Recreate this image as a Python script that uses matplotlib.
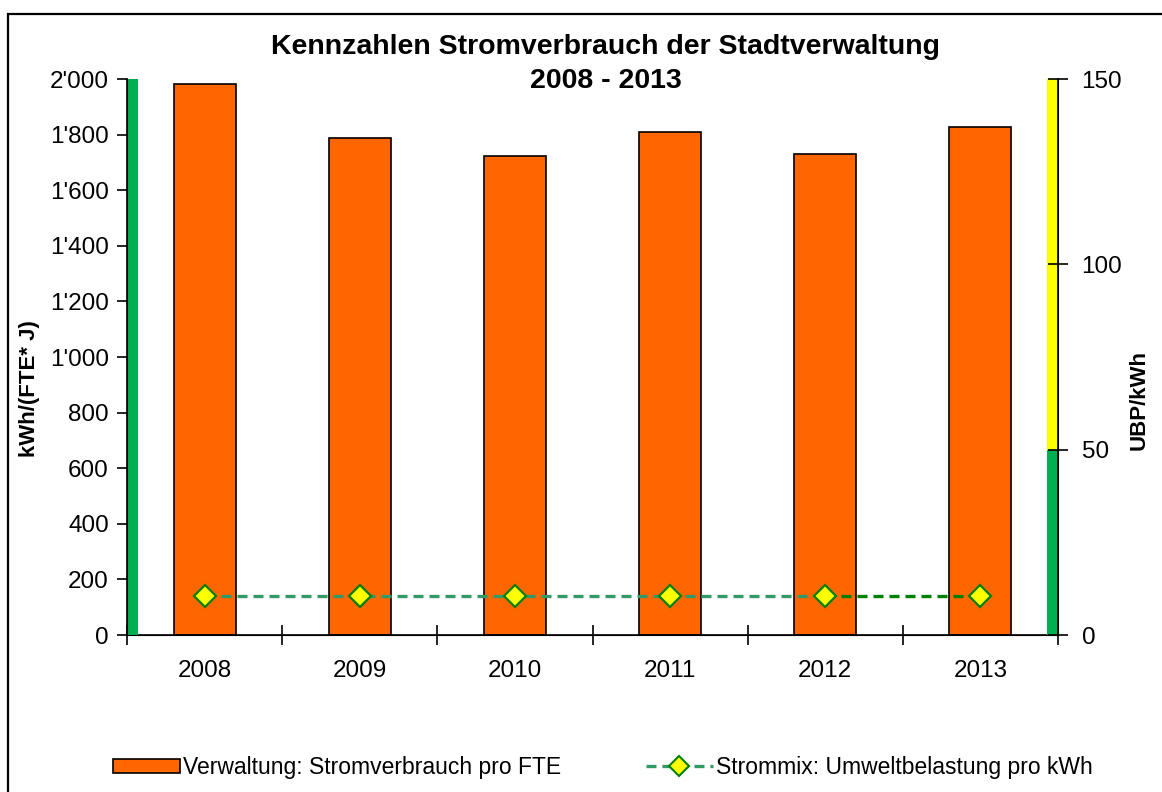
import numpy as np
import matplotlib.pyplot as plt
from matplotlib.patches import Rectangle, Patch
from matplotlib.lines import Line2D
from matplotlib.ticker import FuncFormatter

plt.rcParams['font.family'] = ['Liberation Sans', 'DejaVu Sans']

# data
years = ['2008', '2009', '2010', '2011', '2012', '2013']
kwh_per_fte = [1982, 1788, 1723, 1809, 1730, 1827]
ubp_per_kwh = [10.5, 10.5, 10.5, 10.5, 10.5, 10.5]

# coloured reference bands at the axis edges
kwh_band = (0, 2000)
ubp_bands = [(0, 50, '#00B050'), (50, 150, '#FFFF00')]

bar_color = '#FF6600'
line_color = '#339966'
last_seg_color = '#008000'

fig = plt.figure(figsize=(11.62, 7.92), dpi=100)
ax = fig.add_axes([0.1093, 0.1982, 0.8012, 0.7020])
ax2 = ax.twinx()

x = np.arange(len(years))

ax.bar(x, kwh_per_fte, width=0.4, color=bar_color, edgecolor='black', linewidth=1.2, zorder=2)

# left green band
ax.bar(-0.5, kwh_band[1] - kwh_band[0], bottom=kwh_band[0], width=0.07, align='edge',
       color='#00B050', linewidth=0, zorder=3)

ax.set_xlim(-0.5, len(years) - 0.5)
ax.set_ylim(0, 2000)
ax.set_yticks(np.arange(0, 2001, 200))
ax.yaxis.set_major_formatter(FuncFormatter(lambda v, p: f"{int(v):,}".replace(',', "'")))
ax.set_xticks(np.arange(-0.5, len(years), 1.0))
ax.set_xticklabels([])
ax.set_xticks(x, minor=True)
ax.set_xticklabels(years, minor=True)
ax.tick_params(axis='x', which='major', direction='inout', length=14, width=1.2)
ax.tick_params(axis='x', which='minor', length=0, pad=18, labelsize=17.5)
ax.tick_params(axis='y', direction='out', length=7, width=1.2, pad=6, labelsize=17.5)
ax.set_ylabel('kWh/(FTE* J)', fontsize=16, fontweight='bold')
ax.yaxis.set_label_coords(-0.0935, 0.444)

ax.spines['top'].set_visible(False)
ax2.spines['top'].set_visible(False)
ax.spines['left'].set_linewidth(1.2)
ax.spines['bottom'].set_linewidth(1.2)
ax2.spines['right'].set_linewidth(1.2)

# right bands
for lo, hi, c in ubp_bands:
    ax2.bar(len(years) - 0.5, hi - lo, bottom=lo, width=-0.07, align='edge',
            color=c, linewidth=0, zorder=1)

# line: dashed, last segment darker
ax2.plot(x[:-1], ubp_per_kwh[:-1], color=line_color, lw=2.4, dashes=(3, 1.8), zorder=4)
ax2.plot(x[-2:], ubp_per_kwh[-2:], color=last_seg_color, lw=2.4, dashes=(3, 1.8), zorder=4)
ax2.plot(x, ubp_per_kwh, ls='none', marker='D', ms=11.5, mfc='#FFFF00', mec=last_seg_color,
         mew=1.6, zorder=5)

ax2.set_ylim(0, 150)
ax2.set_yticks([0, 50, 100, 150])
ax2.tick_params(axis='y', direction='inout', length=14, width=1.2, pad=10, labelsize=17.5)
ax2.set_ylabel('UBP/kWh', fontsize=16, fontweight='bold')
ax2.yaxis.set_label_coords(1.076, 0.423)

fig.text(0.521, 0.941, 'Kennzahlen Stromverbrauch der Stadtverwaltung', ha='center', va='center',
         fontsize=20.5, fontweight='bold')
fig.text(0.521, 0.898, '2008 - 2013', ha='center', va='center', fontsize=20.5, fontweight='bold')

# outer frame
fig.patches.append(Rectangle((8 / 1162, -0.1), 1.2, 0.1 + (792 - 14) / 792, transform=fig.transFigure,
                             fill=False, edgecolor='black', linewidth=1.6))

handles = [
    Patch(facecolor=bar_color, edgecolor='black', linewidth=1.2),
    Line2D([], [], color=line_color, lw=2.4, dashes=(3, 1.8), marker='D', ms=10,
           mfc='#FFFF00', mec=last_seg_color, mew=1.5),
]
labels = ['Verwaltung: Stromverbrauch pro FTE', 'Strommix: Umweltbelastung pro kWh']
fig.legend(handles, labels, loc='center', bbox_to_anchor=(0.519, 0.031), ncol=2, frameon=False,
           fontsize=16.5, handlelength=2.9, handleheight=0.55, handletextpad=0.15,
           columnspacing=3.7)

fig.savefig('out.png', dpi=100)
